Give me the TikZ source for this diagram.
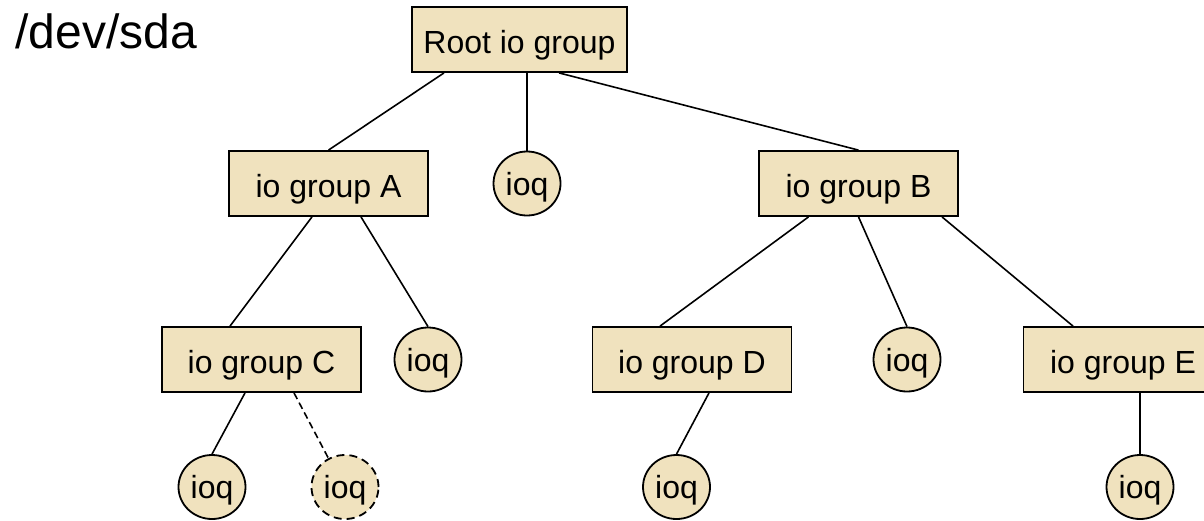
\documentclass[tikz,border=0pt]{standalone}
\usepackage{fontspec}
\setmainfont{Liberation Sans}
\usetikzlibrary{shapes.geometric,calc}
\definecolor{groupfill}{RGB}{240,226,190}
\begin{document}
\begin{tikzpicture}[x=0.5pt,y=-0.5pt,
  grp/.style={draw=black, line width=0.9pt, fill=groupfill, rectangle,
    minimum width=99.5pt, minimum height=32.5pt, inner sep=0pt,
    font=\fontsize{16pt}{18pt}\selectfont, text height=13.5pt, text depth=0pt},
  queue/.style={draw=black, line width=0.9pt, fill=groupfill, ellipse,
    minimum width=33.5pt, minimum height=32pt, inner sep=0pt,
    font=\fontsize{16pt}{18pt}\selectfont, text height=11.5pt, text depth=0pt},
  link/.style={line width=0.8pt},
  dashedlink/.style={line width=0.8pt, dash pattern=on 3.5pt off 2pt}]
\clip (0,0) rectangle (1204,520);

% device label
\node[anchor=base west, inner sep=0pt, font=\fontsize{24pt}{28pt}\selectfont] (dev) at (15,48) {/dev/sda};

% group hierarchy
\node[grp, minimum width=107.5pt] (root) at (519.5,39.5) {Root io group};
\node[queue] (rq) at (527,183.5) {ioq};
\node[grp] (A) at (328.5,183.5) {io group A};
\node[grp] (B) at (858.5,183.5) {io group B};
\node[grp] (C) at (261.5,359.5) {io group C};
\node[queue] (aq) at (428,359.5) {ioq};
\node[grp] (D) at (692,359.5) {io group D};
\node[queue] (bq) at (907,359.5) {ioq};
\node[grp] (E) at (1123,359.5) {io group E};
\node[queue] (cq1) at (212,487) {ioq};
\node[queue, dash pattern=on 4pt off 2.5pt] (cq2) at (345,487) {ioq};
\node[queue] (dq) at (676.5,487) {ioq};
\node[queue] (eq) at (1140,487) {ioq};

% connectors
\draw[link] ($(root.south)+(-75.5,0)$) -- (A.north);
\draw[link] ($(root.south)+(7.5,0)$) -- (rq.north);
\draw[link] ($(root.south)+(39.5,0)$) -- (B.north);
\draw[link] ($(A.south)+(-16.5,0)$) -- ($(C.north)+(-31.5,0)$);
\draw[link] ($(A.south)+(32.5,0)$) -- (aq.north);
\draw[link] ($(B.south)+(-50,0)$) -- ($(D.north)+(-32,0)$);
\draw[link] (B.south) -- (bq.north);
\draw[link] ($(B.south)+(83.5,0)$) -- ($(E.north)+(-50,0)$);
\draw[link] ($(C.south)+(-16.5,0)$) -- (cq1.north);
\draw[dashedlink] ($(C.south)+(32.5,0)$) -- (cq2.120);
\draw[link] ($(D.south)+(17,0)$) -- (dq.north);
\draw[link] ($(E.south)+(17,0)$) -- (eq.north);
\end{tikzpicture}
\end{document}
